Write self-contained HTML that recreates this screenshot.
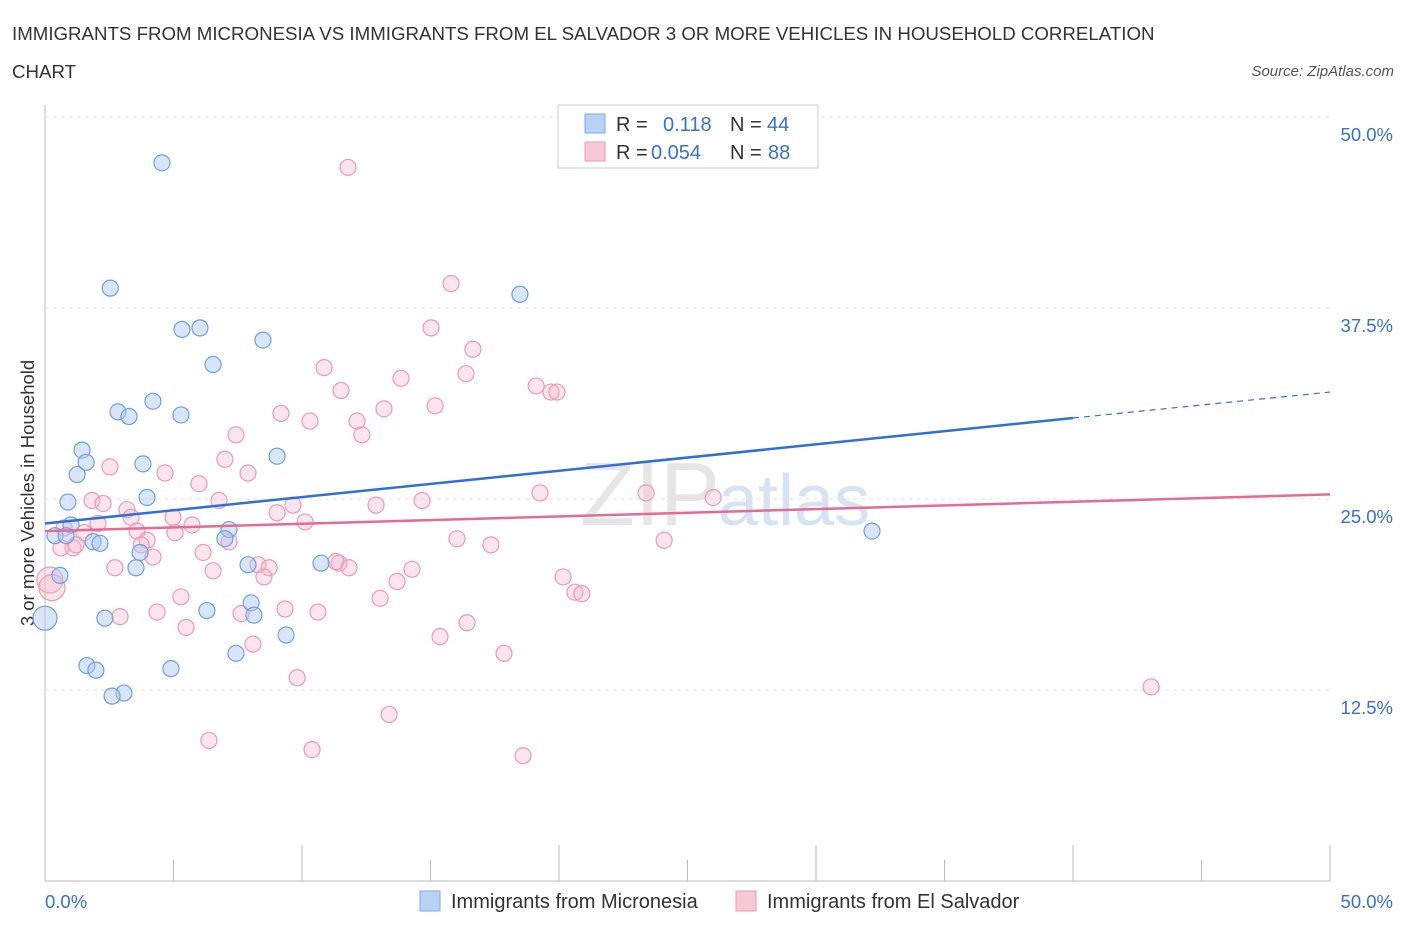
<!DOCTYPE html>
<html><head><meta charset="utf-8"><style>
body{margin:0;background:#fff;font-family:"Liberation Sans",sans-serif;}
svg text{font-family:"Liberation Sans",sans-serif;}
</style></head><body>
<svg id="c" width="1406" height="930">
<text x="12" y="40" font-size="18.7" fill="#333">IMMIGRANTS FROM MICRONESIA VS IMMIGRANTS FROM EL SALVADOR 3 OR MORE VEHICLES IN HOUSEHOLD CORRELATION</text>
<text x="12" y="78" font-size="18.7" fill="#333">CHART</text>
<text x="1394" y="76" font-size="15" fill="#555" font-style="italic" text-anchor="end">Source: ZipAtlas.com</text>
<text x="720" y="525" font-size="90" fill="#e6e6e6" text-anchor="end" font-family="Liberation Serif">ZIP</text>
<text x="718" y="525" font-size="72" fill="#d5e3f3">atlas</text>
<text transform="translate(34,493) rotate(-90)" font-size="18.5" fill="#333" text-anchor="middle">3 or more Vehicles in Household</text>
<g id="grid"></g><g id="pts"></g><g id="lines"></g>
<g>
<rect x="558" y="105" width="260" height="63" fill="#fff" stroke="#ccc"/>
<rect x="585" y="114" width="20" height="19" fill="#b9d3f5" stroke="#7ea8e6"/>
<rect x="585" y="142" width="20" height="19" fill="#f9c8d7" stroke="#eb98b3"/>
<text x="616" y="131" font-size="20" fill="#333">R =</text>
<text x="663" y="131" font-size="20" fill="#3a70c9">0.118</text>
<text x="730" y="131" font-size="20" fill="#333">N =</text>
<text x="767" y="131" font-size="20" fill="#3a70c9">44</text>
<text x="616" y="159" font-size="20" fill="#333">R =</text>
<text x="651" y="159" font-size="20" fill="#3a70c9">0.054</text>
<text x="730" y="159" font-size="20" fill="#333">N =</text>
<text x="768" y="159" font-size="20" fill="#3a70c9">88</text>
</g>
<g>
<rect x="420" y="891" width="20" height="20" fill="#b9d3f5" stroke="#7ea8e6"/>
<text x="451" y="908" font-size="20" fill="#333">Immigrants from Micronesia</text>
<rect x="736" y="891" width="20" height="20" fill="#f9c8d7" stroke="#eb98b3"/>
<text x="767" y="908" font-size="20" fill="#333">Immigrants from El Salvador</text>
</g>
</svg>
<script>
const yTicks=[12.5,25,37.5,50];
const yTickLabels=["12.5%","25.0%","37.5%","50.0%"];
const blueX=[4.55,2.54,18.48,5.33,6.03,8.48,6.54,4.2,2.84,3.27,5.29,1.44,1.6,3.81,1.25,9.03,0.89,3.97,1.01,0.39,0.82,1.87,2.14,7.16,7.0,3.7,3.54,0.58,7.9,10.74,32.18,8.02,6.3,8.13,2.33,0.0,9.38,7.43,1.63,1.98,4.9,3.07,2.61];
const blueY=[47.0,38.8,38.4,36.1,36.2,35.4,33.8,31.4,30.7,30.4,30.5,28.2,27.4,27.3,26.6,27.8,24.8,25.1,23.3,22.6,22.6,22.2,22.1,23.0,22.4,21.5,20.5,20.0,20.7,20.8,22.9,18.2,17.7,17.4,17.2,17.2,16.1,14.9,14.1,13.8,13.9,12.3,12.1];
const pinkX=[11.79,15.8,15.02,16.65,10.86,16.38,13.85,11.52,19.11,19.69,19.92,13.19,15.18,9.18,10.31,12.14,12.33,7.43,2.53,7.0,4.67,7.9,5.99,19.26,23.39,26.0,1.83,2.26,6.77,14.67,12.88,9.65,3.19,9.03,4.98,3.35,2.06,10.12,5.72,0.74,1.52,3.58,5.06,3.97,16.03,17.35,24.09,7.16,1.09,0.62,3.74,4.2,6.15,1.21,8.29,8.72,11.44,11.32,11.83,2.72,6.54,8.52,14.28,20.16,13.7,20.62,20.89,13.04,5.29,4.36,7.63,9.34,10.62,2.92,5.49,16.42,15.37,8.09,17.86,9.81,43.04,13.39,6.38,10.39,18.6,0.19,0.27];
const pinkY=[46.7,39.1,36.2,34.8,33.6,33.2,32.9,32.1,32.4,32.0,32.0,30.9,31.1,30.6,30.1,30.1,29.2,29.2,27.1,27.6,26.7,26.7,26.0,25.4,25.4,25.1,24.9,24.7,24.9,24.9,24.6,24.6,24.3,24.1,23.8,23.8,23.4,23.5,23.3,23.1,22.8,22.9,22.8,22.3,22.4,22.0,22.3,22.2,21.8,21.8,22.0,21.2,21.5,22.0,20.7,20.5,20.8,20.9,20.5,20.5,20.3,19.9,20.4,19.9,19.6,18.9,18.8,18.5,18.6,17.6,17.5,17.8,17.6,17.3,16.6,16.9,16.0,15.5,14.9,13.3,12.7,10.9,9.2,8.6,8.2,19.7,19.2];
const blueFit=[[0,23.4],[40,30.3],[50,32.0]];
const pinkFit=[[0,22.9],[50,25.3]];
const X=v=>45+v*25.7, Y=v=>881-v*15.28;
const NS="http://www.w3.org/2000/svg";
function mk(t,a,p){const e=document.createElementNS(NS,t);for(const k in a)e.setAttribute(k,a[k]);p.appendChild(e);return e;}
const grid=document.getElementById('grid');
mk('line',{x1:45,y1:105,x2:45,y2:881,stroke:'#bbb'},grid);
mk('line',{x1:45,y1:881,x2:1330,y2:881,stroke:'#bbb'},grid);
yTicks.forEach((t,i)=>{const g=mk('line',{x1:45,y1:Y(t),x2:1330,y2:Y(t),stroke:'#e3e3e3','stroke-dasharray':'4,4'},grid);

const tx=mk('text',{x:1393,y:Y(t)+24,'font-size':18.5,fill:'#3a70c9','text-anchor':'end'},grid);tx.textContent=yTickLabels[i];
});
for(let i=0;i<=10;i++){const l=mk('line',{x1:X(i*5),y1:(i%2?860:845),x2:X(i*5),y2:881,stroke:'#bbb'},grid);
}
let t1=mk('text',{x:45,y:908,'font-size':18.5,fill:'#3a70c9'},grid);t1.textContent='0.0%';

let t2=mk('text',{x:1393,y:908,'font-size':18.5,fill:'#3a70c9','text-anchor':'end'},grid);t2.textContent='50.0%';

const pts=document.getElementById('pts');
pinkX.forEach((x,i)=>{const big=x<0.5;const c=mk('circle',{cx:X(x),cy:Y(pinkY[i]),r:big?13:8,fill:'rgba(246,180,200,0.35)',stroke:'#eb9ab5','stroke-width':1.2},pts);
});
blueX.forEach((x,i)=>{const big=x<0.1;const c=mk('circle',{cx:X(x),cy:Y(blueY[i]),r:big?12:8,fill:'rgba(170,200,242,0.45)',stroke:'#6f9fe0','stroke-width':1.2},pts);
});
const ln=document.getElementById('lines');
let b=mk('line',{x1:X(blueFit[0][0]),y1:Y(blueFit[0][1]),x2:X(blueFit[1][0]),y2:Y(blueFit[1][1]),stroke:'#2f6fd6','stroke-width':2.5},ln);

let bd=mk('line',{x1:X(blueFit[1][0]),y1:Y(blueFit[1][1]),x2:X(blueFit[2][0]),y2:Y(blueFit[2][1]),stroke:'#2f6fd6','stroke-width':1.2,'stroke-dasharray':'6,5'},ln);

let p=mk('line',{x1:X(pinkFit[0][0]),y1:Y(pinkFit[0][1]),x2:X(pinkFit[1][0]),y2:Y(pinkFit[1][1]),stroke:'#e56a95','stroke-width':2.5},ln);

</script>
</body></html>
